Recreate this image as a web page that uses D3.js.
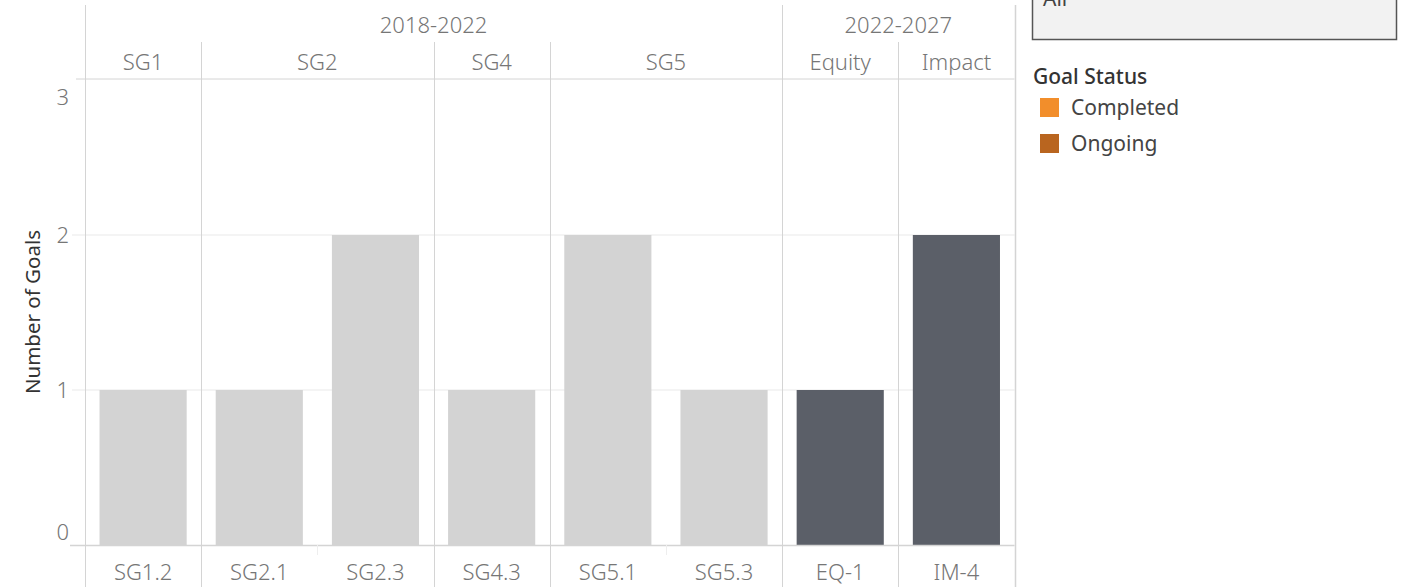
<!DOCTYPE html>
<html>
<head>
<meta charset="utf-8">
<script src="https://cdn.jsdelivr.net/npm/d3@7"></script>
<style>
  html, body { margin: 0; padding: 0; background: #fff; }
  svg { display: block; font-family: "Noto Sans", "Open Sans", sans-serif; }
</style>
</head>
<body>
<svg id="chart" width="1402" height="587"></svg>
<script>
// ---- data ----
const periods = ["2018-2022", "2018-2022", "2018-2022", "2018-2022", "2018-2022", "2018-2022", "2022-2027", "2022-2027"];
const goalGroups = ["SG1", "SG2", "SG2", "SG4", "SG5", "SG5", "Equity", "Impact"];
const categories = ["SG1.2", "SG2.1", "SG2.3", "SG4.3", "SG5.1", "SG5.3", "EQ-1", "IM-4"];
const values = [1, 1, 2, 1, 2, 1, 1, 2];
const highlighted = [false, false, false, false, false, false, true, true];
const yTicks = [0, 1, 2, 3];
const legendTitle = "Goal Status";
const legendLabels = ["Completed", "Ongoing"];
const legendColors = ["#f28e2b", "#b9651f"];
const filterText = "All";

// ---- layout ----
const svg = d3.select("#chart");
const pLeft = 85, pRight = 1014.5, pTop = 79, pBottom = 545;
const x = d3.scaleBand().domain(categories).range([pLeft, pRight]).paddingInner(0.25).paddingOuter(0.125);
const y = d3.scaleLinear().domain([0, 3]).range([pBottom, 80]);
const step = x.step();
const lineC = "#d4d4d4";
const textC = "#767676";
const fs = 22;
const fw = 300;

// gridlines
svg.append("g").selectAll("line").data([1, 2]).join("line")
  .attr("x1", 72).attr("x2", pRight).attr("y1", d => y(d)).attr("y2", d => y(d))
  .attr("stroke", "#f0f0f0").attr("stroke-width", 1.5);

// bars
svg.append("g").selectAll("rect").data(categories).join("rect")
  .attr("x", d => x(d)).attr("width", x.bandwidth())
  .attr("y", (d, i) => y(values[i])).attr("height", (d, i) => y(0) - y(values[i]))
  .attr("fill", (d, i) => highlighted[i] ? "#5b5f68" : "#d3d3d3");

// header horizontal line and bottom axis line
svg.append("line").attr("x1", 76).attr("x2", pRight).attr("y1", pTop).attr("y2", pTop).attr("stroke", lineC);
svg.append("line").attr("x1", 70).attr("x2", pRight).attr("y1", pBottom + 0.5).attr("y2", pBottom + 0.5).attr("stroke", lineC).attr("stroke-width", 1.5);

// vertical separators
const bounds = [];
categories.forEach((c, i) => {
  const xb = pLeft + step * i;
  if (i === 0) bounds.push({ x: xb, y1: 5 });
  else if (periods[i] !== periods[i - 1]) bounds.push({ x: xb, y1: 5 });
  else if (goalGroups[i] !== goalGroups[i - 1]) bounds.push({ x: xb, y1: 42 });
  else bounds.push({ x: xb, y1: pBottom, y2: pBottom + 10, faint: true });
});
bounds.push({ x: pRight, y1: 5, edge: true });
svg.append("g").selectAll("line").data(bounds).join("line")
  .attr("x1", d => Math.round(d.x) + 0.5).attr("x2", d => Math.round(d.x) + 0.5)
  .attr("y1", d => d.y1).attr("y2", d => d.y2 || 587)
  .attr("stroke", d => d.faint ? "#eeeeee" : lineC).attr("stroke-width", d => d.edge ? 1.5 : 1);

// period headers
const periodNames = Array.from(new Set(periods));
periodNames.forEach(p => {
  const idx = periods.map((v, i) => v === p ? i : -1).filter(i => i >= 0);
  const cx = pLeft + step * (idx[0] + idx[idx.length - 1] + 1) / 2;
  svg.append("text").attr("x", cx).attr("y", 33).attr("text-anchor", "middle")
    .attr("fill", textC).attr("font-size", fs).attr("font-weight", fw).text(p);
});
// goal group headers
const groupRuns = [];
goalGroups.forEach((g, i) => {
  if (i > 0 && goalGroups[i - 1] === g) groupRuns[groupRuns.length - 1].end = i;
  else groupRuns.push({ name: g, start: i, end: i });
});
svg.append("g").selectAll("text").data(groupRuns).join("text")
  .attr("x", d => pLeft + step * (d.start + d.end + 1) / 2).attr("y", 70)
  .attr("text-anchor", "middle").attr("fill", textC).attr("font-size", fs).attr("font-weight", fw).text(d => d.name);

// x axis labels
svg.append("g").selectAll("text").data(categories).join("text")
  .attr("x", d => x(d) + x.bandwidth() / 2).attr("y", 580)
  .attr("text-anchor", "middle").attr("fill", textC).attr("font-size", fs).attr("font-weight", fw).text(d => d);

// y axis labels
svg.append("g").selectAll("text").data(yTicks).join("text")
  .attr("x", 69).attr("y", d => d === 0 ? y(d) - 5 : d === 3 ? y(d) + 25 : y(d) + 8)
  .attr("text-anchor", "end").attr("fill", textC).attr("font-size", fs).attr("font-weight", fw).text(d => d);

// y axis title
svg.append("text").attr("transform", "translate(40,312) rotate(-90)")
  .attr("text-anchor", "middle").attr("fill", "#333").attr("font-size", 20.5).text("Number of Goals");

// filter box (partially visible)
svg.append("rect").attr("x", 1032.5).attr("y", -10).attr("width", 364).attr("height", 49.5)
  .attr("fill", "#f2f2f2").attr("stroke", "#555").attr("stroke-width", 1.5);
svg.append("text").attr("x", 1043).attr("y", 6).attr("fill", "#444").attr("font-size", 21).text(filterText);

// legend
svg.append("text").attr("x", 1033).attr("y", 84).attr("fill", "#333").attr("font-size", 21)
  .attr("font-weight", 500).text(legendTitle);
const lg = svg.append("g").selectAll("g").data(legendLabels).join("g")
  .attr("transform", (d, i) => `translate(1040,${98 + i * 36})`);
lg.append("rect").attr("width", 19).attr("height", 19).attr("fill", (d, i) => legendColors[i]);
lg.append("text").attr("x", 31).attr("y", 17).attr("fill", "#444").attr("font-size", 21).text(d => d);
</script>
</body>
</html>
